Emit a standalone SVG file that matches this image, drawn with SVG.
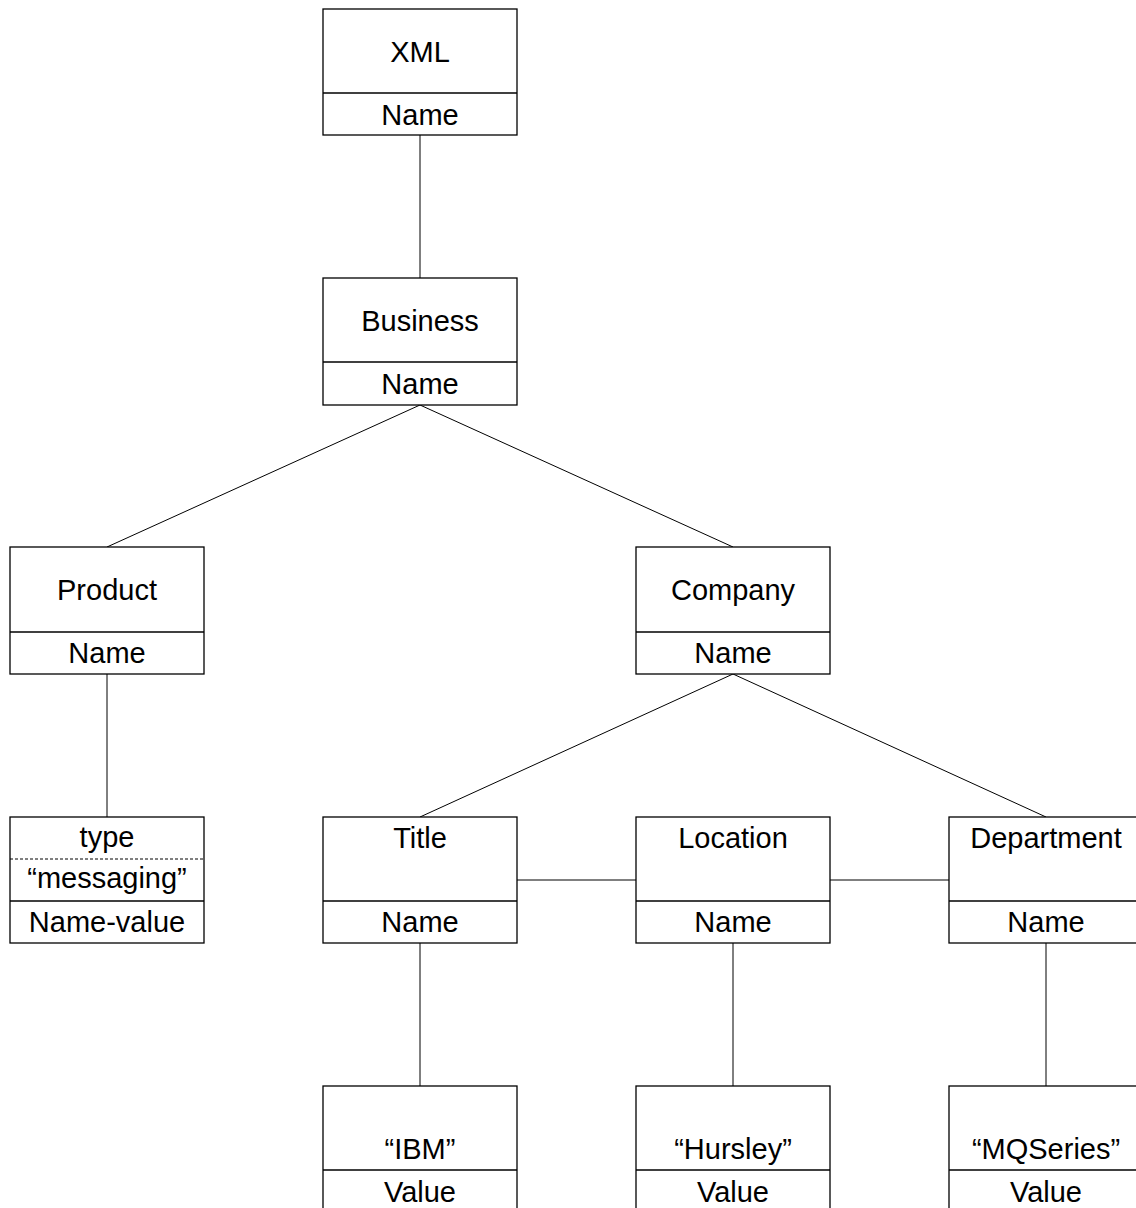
<svg xmlns="http://www.w3.org/2000/svg" width="1136" height="1208" viewBox="0 0 1136 1208">
<style>
.box{fill:#fff;stroke:#000;stroke-width:1.3}
.div{stroke:#000;stroke-width:1.3}
.dash{stroke:#000;stroke-width:1;stroke-dasharray:3,2}
.con{stroke:#000;stroke-width:1;fill:none}
text{font-family:"Liberation Sans",Arial,sans-serif;font-size:29px;text-anchor:middle;fill:#000}
</style>
<rect width="1136" height="1208" fill="#fff"/>
<g id="connectors">
<line class="con" x1="420" y1="135" x2="420" y2="278"/>
<line class="con" x1="420" y1="405" x2="107" y2="547"/>
<line class="con" x1="420" y1="405" x2="733" y2="547"/>
<line class="con" x1="107" y1="674" x2="107" y2="817"/>
<line class="con" x1="733" y1="674" x2="420" y2="817"/>
<line class="con" x1="733" y1="674" x2="1046" y2="817"/>
<line class="con" x1="517" y1="880" x2="636" y2="880"/>
<line class="con" x1="830" y1="880" x2="949" y2="880"/>
<line class="con" x1="420" y1="943" x2="420" y2="1086"/>
<line class="con" x1="733" y1="943" x2="733" y2="1086"/>
<line class="con" x1="1046" y1="943" x2="1046" y2="1086"/>
</g>
<g id="xml"><rect class="box" x="323" y="9" width="194" height="126"/><line class="div" x1="323" y1="93" x2="517" y2="93"/><text x="420" y="62">XML</text><text x="420" y="125">Name</text></g>
<g id="business"><rect class="box" x="323" y="278" width="194" height="127"/><line class="div" x1="323" y1="362" x2="517" y2="362"/><text x="420" y="331">Business</text><text x="420" y="394">Name</text></g>
<g id="product"><rect class="box" x="10" y="547" width="194" height="127"/><line class="div" x1="10" y1="632" x2="204" y2="632"/><text x="107" y="600">Product</text><text x="107" y="663">Name</text></g>
<g id="company"><rect class="box" x="636" y="547" width="194" height="127"/><line class="div" x1="636" y1="632" x2="830" y2="632"/><text x="733" y="600">Company</text><text x="733" y="663">Name</text></g>
<g id="type"><rect class="box" x="10" y="817" width="194" height="126"/><line class="dash" x1="10" y1="859" x2="204" y2="859"/><line class="div" x1="10" y1="901" x2="204" y2="901"/><text x="107" y="847">type</text><text x="107" y="888">“messaging”</text><text x="107" y="932">Name-value</text></g>
<g id="title"><rect class="box" x="323" y="817" width="194" height="126"/><line class="div" x1="323" y1="901" x2="517" y2="901"/><text x="420" y="848">Title</text><text x="420" y="932">Name</text></g>
<g id="location"><rect class="box" x="636" y="817" width="194" height="126"/><line class="div" x1="636" y1="901" x2="830" y2="901"/><text x="733" y="848">Location</text><text x="733" y="932">Name</text></g>
<g id="department"><rect class="box" x="949" y="817" width="194" height="126"/><line class="div" x1="949" y1="901" x2="1143" y2="901"/><text x="1046" y="848">Department</text><text x="1046" y="932">Name</text></g>
<g id="ibm"><rect class="box" x="323" y="1086" width="194" height="126"/><line class="div" x1="323" y1="1170" x2="517" y2="1170"/><text x="420" y="1159">“IBM”</text><text x="420" y="1202">Value</text></g>
<g id="hursley"><rect class="box" x="636" y="1086" width="194" height="126"/><line class="div" x1="636" y1="1170" x2="830" y2="1170"/><text x="733" y="1159">“Hursley”</text><text x="733" y="1202">Value</text></g>
<g id="mqseries"><rect class="box" x="949" y="1086" width="194" height="126"/><line class="div" x1="949" y1="1170" x2="1143" y2="1170"/><text x="1046" y="1159">“MQSeries”</text><text x="1046" y="1202">Value</text></g>
</svg>
